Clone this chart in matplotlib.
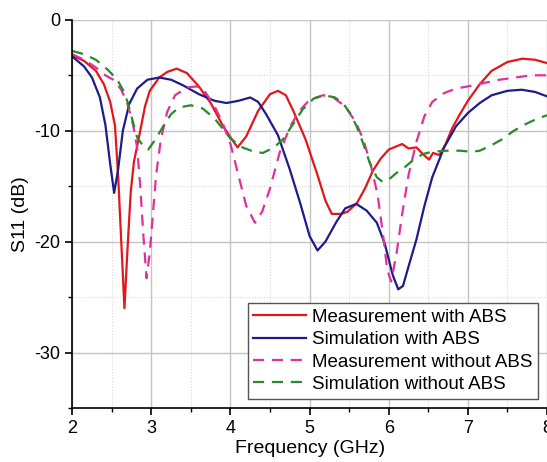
import numpy as np
import matplotlib
matplotlib.use("Agg")
import matplotlib.pyplot as plt
from matplotlib.ticker import MultipleLocator

plt.rcParams['font.family'] = ['Liberation Sans', 'DejaVu Sans']
plt.rcParams['axes.unicode_minus'] = False

# Measurement with ABS
measAbsF = [2.0, 2.15, 2.3, 2.4, 2.48, 2.54, 2.58, 2.62, 2.66, 2.70, 2.74, 2.78, 2.86, 2.92, 2.98,
            3.1, 3.2, 3.32, 3.45, 3.6, 3.75, 3.9, 4.0, 4.09, 4.2, 4.35, 4.5, 4.6, 4.7, 4.8, 4.95,
            5.1, 5.2, 5.28, 5.4, 5.48, 5.6, 5.7, 5.8, 5.9, 6.0, 6.1, 6.17, 6.25, 6.35, 6.43, 6.51,
            6.56, 6.64, 6.72, 6.8, 6.9, 7.0, 7.15, 7.3, 7.5, 7.69, 7.85, 8.0]
measAbsS = [-3.2, -3.7, -4.6, -5.8, -7.4, -9.5, -14.0, -20.0, -26.0, -20.5, -15.5, -12.8, -10.0, -7.8, -6.4,
            -5.2, -4.7, -4.4, -4.8, -6.0, -7.5, -9.5, -10.6, -11.5, -10.5, -8.2, -6.7, -6.4, -6.8, -8.3, -10.8,
            -14.0, -16.3, -17.5, -17.5, -17.3, -16.5, -15.2, -13.6, -12.5, -11.7, -11.4, -11.2, -11.6, -11.5, -12.1, -12.6,
            -12.0, -12.2, -11.2, -9.8, -8.5, -7.3, -5.8, -4.6, -3.8, -3.5, -3.6, -3.9]

# Simulation with ABS
simAbsF = [2.0, 2.15, 2.25, 2.35, 2.42, 2.48, 2.53, 2.58, 2.64, 2.72, 2.82, 2.95, 3.1, 3.25, 3.4,
           3.6, 3.8, 3.95, 4.1, 4.25, 4.35, 4.45, 4.6, 4.75, 4.88, 5.0, 5.1, 5.2, 5.34, 5.45,
           5.59, 5.72, 5.85, 5.95, 6.05, 6.12, 6.18, 6.26, 6.35, 6.45, 6.55, 6.7, 6.85, 7.0,
           7.15, 7.3, 7.5, 7.68, 7.85, 8.0]
simAbsS = [-3.3, -4.2, -5.2, -7.0, -9.5, -13.0, -15.6, -13.5, -10.0, -7.6, -6.2, -5.4, -5.2, -5.4, -5.9,
           -6.7, -7.3, -7.5, -7.3, -7.0, -7.4, -8.5, -10.4, -13.5, -16.5, -19.5, -20.8, -20.0, -18.2, -17.0,
           -16.6, -17.2, -18.3, -20.2, -23.0, -24.3, -24.0, -22.0, -19.8, -16.8, -14.2, -11.5, -9.6, -8.4,
           -7.5, -6.8, -6.4, -6.3, -6.5, -6.9]

# Measurement without ABS
measNoF = [2.0, 2.15, 2.3, 2.42, 2.52, 2.62, 2.7, 2.77, 2.82, 2.86, 2.9, 2.94, 2.98, 3.02, 3.06,
           3.12, 3.2, 3.3, 3.45, 3.57, 3.68, 3.8, 3.9, 4.0, 4.1, 4.2, 4.31, 4.4, 4.5, 4.62,
           4.75, 4.86, 5.0, 5.17, 5.3, 5.45, 5.58, 5.68, 5.78, 5.86, 5.93, 5.98, 6.03, 6.1,
           6.17, 6.25, 6.35, 6.45, 6.55, 6.7, 6.85, 7.0, 7.2, 7.4, 7.6, 7.8, 8.0]
measNoS = [-3.1, -3.6, -4.3, -5.0, -5.4, -6.3, -7.6, -9.5, -11.5, -15.0, -19.5, -23.3, -21.0, -17.5, -14.0,
           -10.8, -8.3, -6.8, -6.1, -6.0, -6.5, -7.8, -9.3, -11.2, -14.0, -16.8, -18.3, -17.3, -15.2, -12.0,
           -9.7, -8.3, -7.2, -6.8, -7.0, -7.8, -9.2, -10.8, -13.3, -15.8, -19.5, -22.5, -23.6, -21.0,
           -17.5, -14.0, -11.0, -8.7, -7.4, -6.6, -6.2, -6.0, -5.7, -5.4, -5.2, -5.0, -5.0]

# Simulation without ABS
simNoF = [2.0, 2.15, 2.3, 2.45, 2.57, 2.64, 2.7, 2.76, 2.82, 2.9, 2.96, 3.05, 3.15, 3.25, 3.35,
          3.5, 3.65, 3.8, 3.9, 4.0, 4.15, 4.3, 4.41, 4.55, 4.66, 4.8, 4.91, 5.05, 5.19, 5.32,
          5.42, 5.52, 5.6, 5.68, 5.76, 5.85, 5.92, 6.0, 6.1, 6.2, 6.3, 6.43, 6.55, 6.73, 6.9,
          7.05, 7.15, 7.3, 7.45, 7.56, 7.7, 7.85, 8.0]
simNoS = [-2.8, -3.1, -3.6, -4.5, -5.4, -6.3, -7.4, -9.0, -10.6, -11.4, -11.7, -10.8, -9.6, -8.5, -7.9,
          -7.7, -8.0, -8.9, -9.8, -10.7, -11.5, -11.9, -12.0, -11.5, -10.8, -9.3, -8.1, -7.1, -6.8, -7.0,
          -7.5, -8.5, -9.7, -11.2, -12.9, -14.2, -14.6, -14.4, -13.8, -13.3, -12.7, -12.1, -11.9, -11.8, -11.8,
          -11.9, -11.8, -11.3, -10.7, -10.1, -9.5, -9.0, -8.6]

fig = plt.figure(figsize=(5.47, 4.62), dpi=100)
ax = fig.add_axes([0.132, 0.117, 0.868, 0.84])

ax.plot(measAbsF, measAbsS, color='#e3161c', lw=1.6, label='Measurement with ABS')
ax.plot(simAbsF, simAbsS, color='#1c1c8a', lw=1.6, label='Simulation with ABS')
ax.plot(measNoF, measNoS, color='#e0309a', lw=1.6, ls=(0, (5, 3.5)), label='Measurement without ABS')
ax.plot(simNoF, simNoS, color='#2a8a2a', lw=1.6, ls=(0, (5, 3.5)), label='Simulation without ABS')

ax.set_xlim(2, 8)
ax.set_ylim(-35, 0)
ax.xaxis.set_major_locator(MultipleLocator(1))
ax.xaxis.set_minor_locator(MultipleLocator(0.5))
ax.yaxis.set_major_locator(MultipleLocator(10))
ax.yaxis.set_minor_locator(MultipleLocator(5))
ax.grid(which='major', color='#c4c4c4', lw=1.0, ls='-')
ax.grid(which='minor', color='#d8d8d8', lw=0.8, ls=':')
ax.set_axisbelow(True)

ax.spines['top'].set_visible(False)
ax.spines['right'].set_visible(False)
ax.spines['left'].set_linewidth(1.2)
ax.spines['bottom'].set_linewidth(1.2)
ax.tick_params(which='major', direction='out', length=5, width=1.2, labelsize=13)
ax.tick_params(which='minor', direction='out', length=3, width=1.0)

ax.set_xlabel('Frequency (GHz)', fontsize=14, labelpad=2)
ax.set_ylabel('S11 (dB)', fontsize=14, labelpad=4)

leg = ax.legend(loc='lower right', fontsize=13.5, frameon=True, fancybox=False,
                edgecolor='#555555', framealpha=1, labelspacing=0.28, borderpad=0.3,
                handlelength=2.8, handletextpad=0.3, borderaxespad=0.5)
leg.get_frame().set_linewidth(1.0)

fig.savefig('out.png', dpi=100)
